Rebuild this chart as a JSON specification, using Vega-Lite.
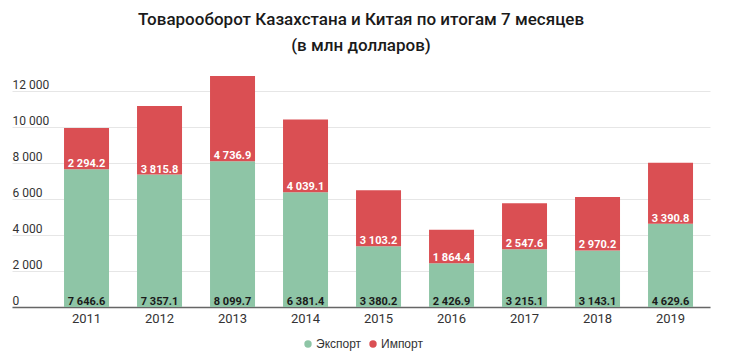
{
  "$schema": "https://vega.github.io/schema/vega-lite/v6.json",
  "autosize": {"type": "none"},
  "width": 698,
  "height": 234,
  "padding": {"left": 12, "top": 73, "right": 20, "bottom": 52},
  "background": "white",
  "config": {
    "locale": {"number": {"decimal": ".", "thousands": " ", "grouping": [3], "currency": ["", ""]}},
    "view": {"stroke": null},
    "font": "Roboto"
  },
  "title": {
    "text": ["Товарооборот Казахстана и Китая по итогам 7 месяцев", "(в млн долларов)"],
    "font": "Roboto",
    "fontSize": 17,
    "fontWeight": 500,
    "color": "#1a1a1a",
    "anchor": "middle",
    "lineHeight": 26,
    "offset": 18
  },
  "data": {
    "values": [
      {"year": "2011", "type": "Экспорт", "value": 7646.6},
      {"year": "2011", "type": "Импорт", "value": 2294.2},
      {"year": "2012", "type": "Экспорт", "value": 7357.1},
      {"year": "2012", "type": "Импорт", "value": 3815.8},
      {"year": "2013", "type": "Экспорт", "value": 8099.7},
      {"year": "2013", "type": "Импорт", "value": 4736.9},
      {"year": "2014", "type": "Экспорт", "value": 6381.4},
      {"year": "2014", "type": "Импорт", "value": 4039.1},
      {"year": "2015", "type": "Экспорт", "value": 3380.2},
      {"year": "2015", "type": "Импорт", "value": 3103.2},
      {"year": "2016", "type": "Экспорт", "value": 2426.9},
      {"year": "2016", "type": "Импорт", "value": 1864.4},
      {"year": "2017", "type": "Экспорт", "value": 3215.1},
      {"year": "2017", "type": "Импорт", "value": 2547.6},
      {"year": "2018", "type": "Экспорт", "value": 3143.1},
      {"year": "2018", "type": "Импорт", "value": 2970.2},
      {"year": "2019", "type": "Экспорт", "value": 4629.6},
      {"year": "2019", "type": "Импорт", "value": 3390.8}
    ]
  },
  "transform": [
    {"stack": "value", "groupby": ["year"], "sort": [{"field": "type", "order": "descending"}], "as": ["v0", "v1"]}
  ],
  "encoding": {
    "x": {
      "field": "year", "type": "ordinal",
      "scale": {"paddingInner": 0.3836, "paddingOuter": 0.4726, "align": 0.754},
      "axis": {
        "title": null, "ticks": false, "labelAngle": 0,
        "labelFontSize": 13, "labelColor": "#333333", "labelPadding": 5,
        "domainColor": "#666666", "domainWidth": 1.5, "grid": false
      }
    },
    "y": {
      "field": "v0", "type": "quantitative",
      "scale": {"domain": [0, 13000], "nice": false},
      "axis": {
        "title": null, "values": [0, 2000, 4000, 6000, 8000, 10000, 12000],
        "format": ",.0f", "domain": false, "ticks": false, "tickSize": 0,
        "labelAlign": "left", "labelBaseline": "alphabetic", "labelOffset": -3,
        "labelPadding": 0, "labelFontSize": 12, "labelColor": "#333333",
        "labelOverlap": false,
        "grid": true, "gridColor": "#e6e6e6", "gridWidth": 1
      }
    }
  },
  "layer": [
    {
      "mark": {"type": "bar"},
      "encoding": {
        "y2": {"field": "v1"},
        "color": {
          "field": "type", "type": "nominal",
          "scale": {"domain": ["Экспорт", "Импорт"], "range": ["#8ec5a6", "#da4f53"]},
          "legend": {
            "title": null, "orient": "none", "direction": "horizontal",
            "legendX": 290, "legendY": 265,
            "symbolType": "circle", "symbolSize": 55, "symbolStrokeWidth": 0,
            "labelFontSize": 12, "labelFont": "Liberation Sans", "labelColor": "#333333",
            "labelOffset": 2, "columnPadding": 5
          }
        }
      }
    },
    {
      "mark": {"type": "text", "fontSize": 11, "fontWeight": "bold", "baseline": "alphabetic", "dy": -2},
      "encoding": {
        "text": {"field": "value", "type": "quantitative", "format": ",.1f"},
        "color": {
          "condition": {"test": "datum.type === 'Импорт'", "value": "white"},
          "value": "#1a1a1a"
        }
      }
    }
  ]
}
